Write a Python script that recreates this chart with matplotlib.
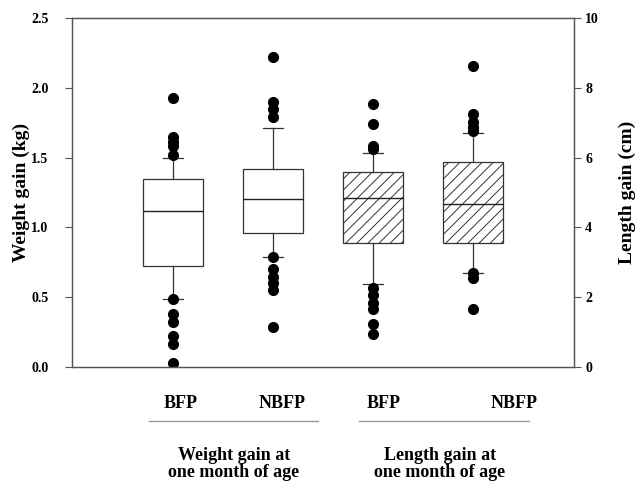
import matplotlib
matplotlib.use("Agg")
import matplotlib.pyplot as plt

# ---- data ----
group_labels = ["BFP", "NBFP", "BFP", "NBFP"]
panel_titles = ["Weight gain at\none month of age", "Length gain at\none month of age"]

# Weight gain (kg)
w_q1 = [0.72, 0.96]
w_med = [1.12, 1.20]
w_q3 = [1.35, 1.42]
w_lo = [0.49, 0.79]
w_hi = [1.50, 1.71]
w_fliers = [
    [1.93, 1.65, 1.61, 1.58, 1.52, 0.49, 0.38, 0.32, 0.22, 0.165, 0.03],
    [2.22, 1.90, 1.85, 1.79, 0.79, 0.70, 0.645, 0.60, 0.55, 0.29],
]

# Length gain (cm)
l_q1 = [3.55, 3.55]
l_med = [4.84, 4.67]
l_q3 = [5.59, 5.87]
l_lo = [2.38, 2.69]
l_hi = [6.13, 6.70]
l_fliers = [
    [7.54, 6.96, 6.33, 6.25, 2.26, 2.06, 1.83, 1.66, 1.23, 0.95],
    [8.62, 7.25, 7.02, 6.88, 6.76, 2.69, 2.55, 1.66],
]

w_ticks = [0.0, 0.5, 1.0, 1.5, 2.0, 2.5]
l_ticks = [0, 2, 4, 6, 8, 10]

plt.rcParams['font.family'] = ['Liberation Serif', 'DejaVu Serif']
plt.rcParams['hatch.linewidth'] = 0.7

fig = plt.figure(figsize=(6.38, 4.83), dpi=100)
ax = fig.add_axes([72/638, 116/483, 502/638, 349/483])
ax2 = ax.twinx()

edge = "#333333"
lineprops = dict(color=edge, linewidth=0.9)
medprops = dict(color="#222222", linewidth=1.0)
flierprops = dict(marker='o', markerfacecolor='black', markeredgecolor='black',
                  markersize=7, linestyle='none')

def stats(q1, med, q3, lo, hi, fl):
    return [dict(q1=a, med=b, q3=c, whislo=d, whishi=e, fliers=f)
            for a, b, c, d, e, f in zip(q1, med, q3, lo, hi, fl)]

ax.bxp(stats(w_q1, w_med, w_q3, w_lo, w_hi, w_fliers), positions=[1, 2],
       widths=0.6, capwidths=0.2, patch_artist=True,
       boxprops=dict(facecolor='white', edgecolor=edge, linewidth=0.9),
       whiskerprops=lineprops, capprops=lineprops, medianprops=medprops,
       flierprops=flierprops)

ax2.bxp(stats(l_q1, l_med, l_q3, l_lo, l_hi, l_fliers), positions=[3, 4],
        widths=0.6, capwidths=0.2, patch_artist=True,
        boxprops=dict(facecolor='white', edgecolor=edge, linewidth=0.9, hatch='///'),
        whiskerprops=lineprops, capprops=lineprops, medianprops=medprops,
        flierprops=flierprops)

ax.set_xlim(-0.01, 5.01)
ax.set_ylim(0, 2.5)
ax2.set_ylim(0, 10)
ax.set_yticks(w_ticks)
ax.set_yticklabels([f"{t:.1f}" for t in w_ticks])
ax2.set_yticks(l_ticks)
ax2.set_yticklabels([str(t) for t in l_ticks])
ax.set_xticks([])
ax2.set_xticks([])

for a in (ax, ax2):
    for s in a.spines.values():
        s.set_color("#555555")
        s.set_linewidth(0.9)
ax.tick_params(axis='y', direction='out', length=5, width=0.8, color="#555555",
               labelsize=10, pad=12)
ax2.tick_params(axis='y', direction='out', length=5, width=0.8, color="#555555",
                labelsize=10, pad=3)
for lab in ax.get_yticklabels() + ax2.get_yticklabels():
    lab.set_fontweight('bold')

ax.set_ylabel("Weight gain (kg)", fontsize=14, fontweight='bold', labelpad=1)
ax2.set_ylabel("Length gain (cm)", fontsize=14, fontweight='bold', labelpad=14)

# group labels below the axes (figure pixel coordinates)
label_x = [181, 282, 384, 514]
for x, t in zip(label_x, group_labels):
    fig.text(x/638, 1 - 403/483, t, ha='center', va='center', fontsize=13, fontweight='bold')

fig.add_artist(plt.Line2D([149/638, 318/638], [1 - 421/483] * 2, color="#999999", linewidth=1.0))
fig.add_artist(plt.Line2D([359/638, 529/638], [1 - 421/483] * 2, color="#999999", linewidth=1.0))

fig.text(234/638, 1 - 464/483, panel_titles[0], ha='center', va='center', fontsize=13,
         fontweight='bold', linespacing=1.05)
fig.text(440/638, 1 - 464/483, panel_titles[1], ha='center', va='center', fontsize=13,
         fontweight='bold', linespacing=1.05)

fig.savefig("out.png", dpi=100)
